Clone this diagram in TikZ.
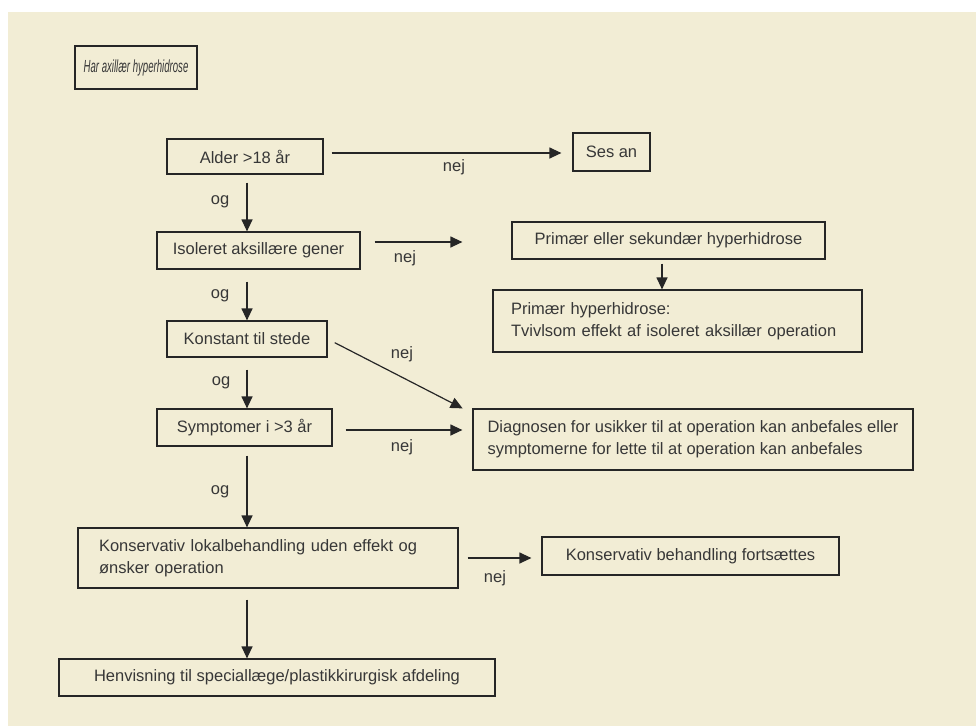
\documentclass[tikz,border=0pt]{standalone}
\usepackage{fontspec}
\setmainfont{Liberation Sans}
\newfontfamily\titelfont[FakeStretch=0.55]{Liberation Sans}
\usetikzlibrary{arrows.meta,calc}
\definecolor{creme}{RGB}{242,237,213}
\definecolor{linje}{RGB}{38,38,38}
\definecolor{tekst}{RGB}{55,55,55}

\begin{document}
\begin{tikzpicture}[x=1pt, y=-1pt, font=\fontsize{16.5}{22}\selectfont]
    \useasboundingbox (0,0) rectangle (976,726);
    \fill[creme] (8,12) rectangle (976,726);
    \coordinate (kol) at (247,0);

    \begin{scope}[every node/.style={draw=linje, line width=2.2pt, text=tekst, inner sep=0pt, font=\titelfont\itshape\fontsize{17.5}{20}\selectfont}]
        \node[minimum width=122pt, minimum height=43pt] (titel) at (136,67.5) {Har axillær hyperhidrose};
    \end{scope}

    \begin{scope}[every node/.style={draw=linje, line width=1.2pt, text=tekst, inner sep=0pt, minimum height=37pt}]
        \node[minimum width=156pt, minimum height=35pt] (alder) at (245,156.5) {Alder >18 år};
        \node[minimum width=77pt, minimum height=38pt] (sesan) at (611.5,152) {Ses an};
        \node[minimum width=203pt] (isoleret) at (258.5,250.5) {Isoleret aksillære gener};
        \node[minimum width=313pt] (primsek) at (668.5,240.5) {Primær eller sekundær hyperhidrose};
        \node[minimum width=369pt, minimum height=62pt, text width=333pt, align=left] (primhyp) at (677.5,321) {Primær hyperhidrose:\\Tvivlsom effekt af isoleret aksillær operation};
        \node[minimum width=160pt, minimum height=36pt] (konstant) at (247,339) {Konstant til stede};
        \node[minimum width=175pt] (symptomer) at (244.5,427.5) {Symptomer i >3 år};
        \node[minimum width=440pt, minimum height=61pt, align=left] (diagnosen) at (693,439.5) {Diagnosen for usikker til at operation kan anbefales eller\\symptomerne for lette til at operation kan anbefales};
        \node[minimum width=380pt, minimum height=60pt, text width=338pt, align=left] (konslokal) at (268,558) {Konservativ lokalbehandling uden effekt og\\ønsker operation};
        \node[minimum width=297pt, minimum height=38pt] (fortsaet) at (690.5,556) {Konservativ behandling fortsættes};
        \node[minimum width=436pt] (henvisning) at (277,677.5) {Henvisning til speciallæge/plastikkirurgisk afdeling};
    \end{scope}

    \begin{scope}[every edge/.style={draw=linje, line width=1.2pt}]
        \path [-{Triangle[length=12pt,width=11pt]}] (alder.south -| kol) edge[shorten <=8pt] (isoleret.north -| kol);
        \path [-{Triangle[length=12pt,width=11pt]}] (isoleret.south -| kol) edge[shorten <=12pt] (konstant.north -| kol);
        \path [-{Triangle[length=12pt,width=11pt]}] (konstant.south -| kol) edge[shorten <=12pt] (symptomer.north -| kol);
        \path [-{Triangle[length=12pt,width=11pt]}] (symptomer.south -| kol) edge[shorten <=9pt] (konslokal.north -| kol);
        \path [-{Triangle[length=12pt,width=11pt]}] (konslokal.south -| kol) edge[shorten <=11pt] (henvisning.north -| kol);
        \path [-{Triangle[length=12pt,width=11pt]}] ($(alder.east)+(0,-3.5)$) edge[shorten <=8pt, shorten >=11pt] ($(alder.east -| sesan.west)+(0,-3.5)$);
        \path [-{Triangle[length=12pt,width=11pt]}] ($(isoleret.east)+(0,-8.5)$) edge[shorten <=14pt, shorten >=49pt] ($(isoleret.east -| primsek.west)+(0,-8.5)$);
        \path [-{Triangle[length=12pt,width=11pt]}] ($(primsek.south)+(-6.5,0)$) edge[shorten <=4pt] ($(primhyp.north -| primsek.south)+(-6.5,0)$);
        \path [-{Triangle[length=12pt,width=11pt]}] (konstant.east) edge[shorten <=8pt, shorten >=11pt] ($(diagnosen.north west)+(0,5)$);
        \path [-{Triangle[length=12pt,width=11pt]}] ($(symptomer.east)+(0,2.5)$) edge[shorten <=13pt, shorten >=10pt] ($(symptomer.east -| diagnosen.west)+(0,2.5)$);
        \path [-{Triangle[length=12pt,width=11pt]}] (konslokal.east) edge[shorten <=9pt, shorten >=10pt] (konslokal.east -| fortsaet.west);
    \end{scope}

    \begin{scope}[every node/.style={text=tekst, inner sep=0pt}]
        \node (og1) at (220,202) {og};
        \node (og2) at (220,296) {og};
        \node (og3) at (221,383) {og};
        \node (og4) at (220,492) {og};
        \node (nej1) at (454,167) {nej};
        \node (nej2) at (405,258) {nej};
        \node (nej3) at (402,354) {nej};
        \node (nej4) at (402,447) {nej};
        \node (nej5) at (495,578) {nej};
    \end{scope}
\end{tikzpicture}
\end{document}
